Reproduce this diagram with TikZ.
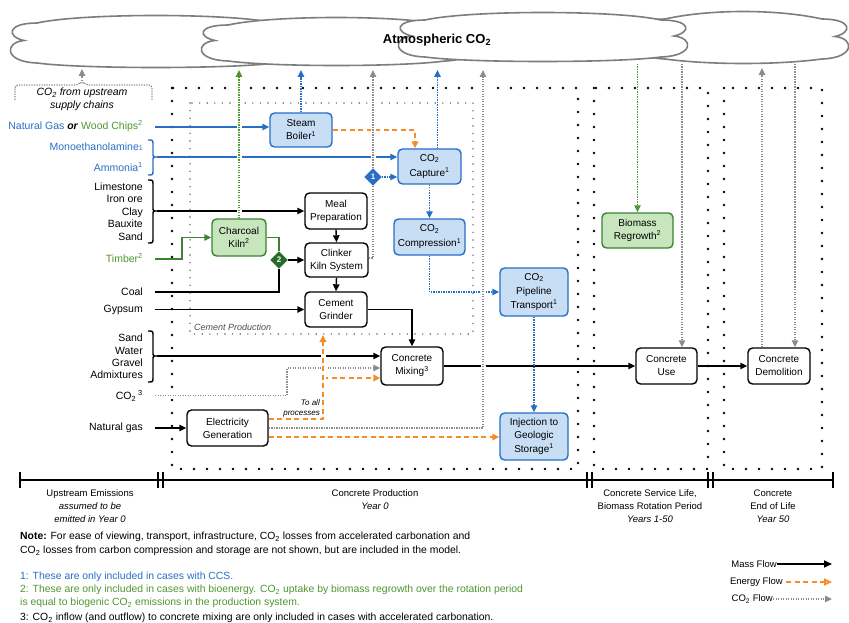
\documentclass[tikz,border=0pt]{standalone}
\usepackage{fontspec}
\setmainfont{Liberation Sans}
\usetikzlibrary{arrows.meta,shapes.geometric,calc}
\definecolor{cblue}{RGB}{40,110,195}
\definecolor{bborder}{RGB}{40,110,200}
\definecolor{bfill}{RGB}{200,222,245}
\definecolor{cgreen}{RGB}{78,150,50}
\definecolor{gborder}{RGB}{60,130,50}
\definecolor{gfill}{RGB}{200,230,190}
\definecolor{dgreen}{RGB}{40,105,40}
\definecolor{corange}{RGB}{245,140,40}
\definecolor{cgray}{RGB}{140,140,140}
\definecolor{cloudgray}{RGB}{125,125,125}
\newcommand{\myfs}[2]{\fontsize{#1}{#2}\selectfont}
\newcommand{\csub}[1]{\textsubscript{#1}}
\newcommand{\csup}[1]{\textsuperscript{#1}}
% cloud: left, right, top, bottom
\newcommand{\mycloud}[4]{%
 \draw[cloudline, fill=white] ({#1+25},{#3+8}) .. controls ({#1+70},{#3-2}) and ({#2-70},{#3-2}) .. ({#2-25},{#3+8})
 .. controls ({#2+5},{#3+8}) and ({#2+6},{(#3+#4)/2-4}) .. ({#2-12},{(#3+#4)/2})
 .. controls ({#2+8},{(#3+#4)/2+2}) and ({#2+8},{#4-4}) .. ({#2-25},{#4-3})
 .. controls ({#2-70},{#4+3}) and ({#1+70},{#4+3}) .. ({#1+25},{#4-3})
 .. controls ({#1-8},{#4-4}) and ({#1-8},{(#3+#4)/2+2}) .. ({#1+12},{(#3+#4)/2})
 .. controls ({#1-6},{(#3+#4)/2-4}) and ({#1-5},{#3+8}) .. ({#1+25},{#3+8}) -- cycle;}
\begin{document}
\begin{tikzpicture}[x=1pt,y=-1pt,
  box/.style={draw=black, line width=1.4pt, rounded corners=4.5pt, align=center, inner sep=0pt, fill=white, font=\myfs{10}{13}},
  bbox/.style={box, draw=bborder, fill=bfill},
  gbox/.style={box, draw=gborder, fill=gfill},
  arrtip/.style={-{Triangle[length=7pt,width=6.5pt]}},
  mass/.style={line width=1.4pt, arrtip},
  massl/.style={line width=1.4pt},
  bmass/.style={mass, cblue},
  gmass/.style={mass, gborder},
  gmassl/.style={massl, gborder},
  energy/.style={corange, line width=1.8pt, dash pattern=on 5pt off 3.5pt, arrtip},
  dotl/.style={line width=1.3pt, dash pattern=on 1.3pt off 1.2pt},
  co2g/.style={dotl, cgray, arrtip},
  co2gl/.style={dotl, cgray},
  co2b/.style={dotl, cblue, arrtip},
  co2gr/.style={dotl, cgreen, arrtip},
  gapline/.style={white, line width=5pt, shorten <=3pt, shorten >=3pt},
  bigdots/.style={line width=2.6pt, dash pattern=on 0pt off 13pt, line cap=round},
  smalldots/.style={line width=1.6pt, dash pattern=on 0pt off 7.6pt, line cap=round, black!60},
  lbl/.style={anchor=east, align=right, inner sep=0pt, font=\myfs{10.5}{12.4}},
  tl/.style={align=center, inner sep=0pt, font=\myfs{9.5}{13}},
  note/.style={anchor=west, inner sep=0pt, font=\myfs{10.4}{13}},
  leg/.style={anchor=east, inner sep=0pt, font=\myfs{9.5}{11}},
  cloudline/.style={cloudgray, line width=1.6pt}
]
\useasboundingbox (0,0) rectangle (849,623);

% ---------- dotted frames ----------
\draw[bigdots] (172,88) rectangle (578,469);
\draw[bigdots] (594,88) rectangle (708,469);
\draw[bigdots] (724,88) rectangle (822,469);
\draw[smalldots] (190,103) rectangle (473,334);
\node[anchor=west, inner sep=0pt, font=\itshape\myfs{9}{11}, text=black!70] (cplabel) at (194,327) {Cement Production};

% ---------- cloud ----------
\mycloud{12}{300}{15}{66}
\mycloud{640}{847}{11}{62}
\mycloud{203}{470}{17}{64}
\mycloud{400}{686}{12}{60}
\node[font=\bfseries\myfs{13}{15}, inner sep=0pt] (atm) at (437,40) {Atmospheric CO\csub{2}};

% ---------- process boxes ----------
\node[bbox, minimum width=62pt, minimum height=34pt] (boiler) at (301,130) {Steam\\Boiler\csup{1}};
\node[bbox, minimum width=63pt, minimum height=35pt] (capture) at (429.5,166.5) {CO\csub{2}\\[2pt]Capture\csup{1}};
\node[bbox, minimum width=71pt, minimum height=36pt] (compression) at (429.5,237) {CO\csub{2}\\[2pt]Compression\csup{1}};
\node[bbox, minimum width=68pt, minimum height=48pt] (pipeline) at (534,292) {CO\csub{2}\\[1pt]Pipeline\\[1pt]Transport\csup{1}};
\node[bbox, minimum width=68pt, minimum height=47pt] (injection) at (534,436.5) {Injection to\\Geologic\\[1pt]Storage\csup{1}};
\node[box, minimum width=62pt, minimum height=36pt] (meal) at (336,211) {Meal\\Preparation};
\node[box, minimum width=63pt, minimum height=34pt] (clinker) at (336.5,260) {Clinker\\Kiln System};
\node[box, minimum width=62pt, minimum height=35pt] (grinder) at (336,309.5) {Cement\\Grinder};
\node[gbox, minimum width=54pt, minimum height=37pt] (charcoal) at (239,237.5) {Charcoal\\Kiln\csup{2}};
\node[box, minimum width=62pt, minimum height=38pt] (mixing) at (412,366) {Concrete\\Mixing\csup{3}};
\node[box, minimum width=81pt, minimum height=36pt] (elec) at (227.5,428) {Electricity\\Generation};
\node[box, minimum width=61pt, minimum height=36pt] (use) at (666.5,366) {Concrete\\Use};
\node[box, minimum width=62pt, minimum height=36pt] (demolition) at (779,366) {Concrete\\Demolition};
\node[gbox, minimum width=71pt, minimum height=35pt] (regrowth) at (637.5,230.5) {Biomass\\Regrowth\csup{2}};
\node[diamond, fill=cblue, draw=cblue, text=white, font=\bfseries\myfs{8}{9}, inner sep=0.5pt, minimum size=17pt] (d1) at (373,177) {1};
\node[diamond, fill=dgreen, draw=dgreen, text=white, font=\bfseries\myfs{8}{9}, inner sep=0.5pt, minimum size=17pt] (d2) at (279,260) {2};

% ---------- input labels ----------
\node[align=center, inner sep=0pt, font=\itshape\myfs{10.5}{13}] (upstream) at (82,99.5) {CO\csub{2} from upstream\\supply chains};
\node[lbl] (ngwc) at (143,126) {{\color{cblue}Natural Gas} \textbf{\textit{or}} {\color{cgreen}Wood Chips\csup{2}}};
\node[lbl, text=cblue] (mea) at (143,147) {Monoethanolamine{\myfs{7}{8}1}};
\node[lbl, text=cblue] (ammonia) at (143,167) {Ammonia\csup{1}};
\node[lbl] (raw1) at (143,211.5) {Limestone\\Iron ore\\Clay\\Bauxite\\Sand};
\node[lbl, text=cgreen] (timber) at (143,258) {Timber\csup{2}};
\node[lbl] (coallbl) at (143,292) {Coal};
\node[lbl] (gyplbl) at (143,309.5) {Gypsum};
\node[lbl] (raw2) at (143,356.5) {Sand\\Water\\Gravel\\Admixtures};
\node[lbl] (co2lbl) at (143,396) {CO\csub{2}\csup{ 3}};
\node[lbl] (nglbl) at (143,428) {Natural gas};
\node[anchor=east, align=right, inner sep=0pt, font=\itshape\myfs{8}{10}] (toall) at (320,408) {To all\\processes};

% ---------- named coordinates ----------
\coordinate (cb) at (0,70);
\coordinate (ngs) at (155,127);
\coordinate (meatip) at (157,157);
\coordinate (limetip) at (157,211);
\coordinate (tim) at (155,259);
\coordinate (coal) at (155,292);
\coordinate (gyp) at (155,309.5);
\coordinate (sandtip) at (157,356);
\coordinate (co2in) at (155,395.5);
\coordinate (ng2) at (155,428);
\coordinate (cpbot) at (323,335);
\coordinate (br) at (323,378);
\coordinate (elec1) at ($(elec.east)+(0,-9)$);
\coordinate (elec3) at ($(elec.east)+(0,9)$);
\coordinate (up4) at (373,70);
\coordinate (up5) at (437.5,70);
\coordinate (up6) at (483,70);
\coordinate (dn1) at (637.5,64);
\coordinate (dn2) at (682,64);
\coordinate (up7) at (762,68);
\coordinate (dn3) at (795,64);
\coordinate (peak) at (82,81);
\coordinate (cbl) at (0,69);

% ---------- braces ----------
\draw[cblue, line width=1.4pt] (148,140) .. controls (153,140) .. (153,145) -- (153,153) .. controls (153,157) .. (meatip) .. controls (153,157) .. (153,161) -- (153,170) .. controls (153,175) .. (148,175);
\draw[line width=1.4pt] (148,180) .. controls (153,180) .. (153,185) -- (153,207) .. controls (153,211) .. (limetip) .. controls (153,211) .. (153,215) -- (153,238) .. controls (153,243) .. (148,243);
\draw[line width=1.4pt] (148,331) .. controls (153,331) .. (153,336) -- (153,352) .. controls (153,356) .. (sandtip) .. controls (153,356) .. (153,360) -- (153,377) .. controls (153,382) .. (148,382);
\draw[cgray, line width=1.3pt, dash pattern=on 1.3pt off 1.2pt, rounded corners=3pt] (15,100) -- (15,85) -- (78,85) -- (peak) -- (86,85) -- (152,85) -- (152,100);

% ---------- horizontal / main connectors ----------
\draw[bmass] (ngs) -- (ngs -| boiler.west);
\draw[bmass] (meatip) -- (meatip -| capture.west);
\draw[mass] (limetip) -- (limetip -| meal.west);
\draw[gmass] (tim) -- ++(27,0) |- (charcoal.west);
\draw[gmassl] (charcoal.east) -| (d2.north);
\draw[mass] (d2.east) -- (clinker.west);
\draw[massl] (coal) -| (d2.south);
\draw[mass] (gyp) -- (grinder.west);
\draw[mass] (meal.south) -- (clinker.north);
\draw[mass] (clinker.south) -- (grinder.north);
\draw[mass] (grinder.east) -| (mixing.north);
\draw[mass] (sandtip) -- (sandtip -| mixing.west);
\draw[co2g] (co2in) -- ++(132,0) |- ($(mixing.west)+(0,2)$);
\draw[mass] (ng2) -- (elec.west);
\draw[mass] (mixing.east) -- (use.west);
\draw[mass] (use.east) -- (demolition.west);
\draw[energy] (boiler.east) -| ($(capture.north)+(-14.5,0)$);
\draw[energy] (br) -- (br -| mixing.west);
\draw[energy] (elec3) -- (elec3 -| injection.west);
\draw[co2b] (d1.east) -- (d1.east -| capture.west);
\draw[co2b] (capture.south) -- (compression.north);
\draw[co2b] (compression.south) |- (pipeline.west);
\draw[co2b] (pipeline.south) -- (injection.north);

% ---------- line hops ----------
\draw[gapline] (charcoal.north) -- (charcoal.north |- cb);
\draw[gapline] (d1.north) -- (up4);
\draw[gapline] (elec1 -| cpbot) -- (cpbot);
\draw[gapline] (up6 |- elec.east) -- (up6);

% ---------- vertical connectors ----------
\draw[co2gr] (charcoal.north) -- (charcoal.north |- cb);
\draw[co2b] (boiler.north) -- (boiler.north |- cb);
\draw[co2gl] ($(clinker.east)+(0,-2)$) -| (d1.south);
\draw[co2g] (d1.north) -- (up4);
\draw[co2b] ($(capture.north)+(8,0)$) -- (up5);
\draw[energy] (elec1) -| (cpbot);
\draw[co2g] (elec.east) -| (up6);
\draw[co2g] (peak) -- (peak |- cbl);
\draw[co2gr] (dn1) -- (regrowth.north);
\draw[co2g] (dn2) -- (dn2 |- use.north);
\draw[co2g] ($(demolition.north)+(-17,0)$) -- (up7);
\draw[co2g] (dn3) -- (dn3 |- demolition.north);

% ---------- timeline ----------
\draw[line width=1.2pt] (20,480) -- (833,480);
\foreach \tx in {20,158,163,587,592,708,713,833}
  \draw[line width=1.2pt] (\tx,472) -- (\tx,488);
\node[tl] (t1) at (90,506) {Upstream Emissions\\\textit{assumed to be}\\\textit{emitted in Year 0}};
\node[tl] (t2) at (375,499.5) {Concrete Production\\\textit{Year 0}};
\node[tl] (t3) at (650,506) {Concrete Service Life,\\Biomass Rotation Period\\\textit{Years 1-50}};
\node[tl] (t4) at (773,506) {Concrete\\End of Life\\\textit{Year 50}};

% ---------- notes ----------
\node[note] (n1) at (20,537) {\textbf{Note:} For ease of viewing, transport, infrastructure, CO\csub{2} losses from accelerated carbonation and};
\node[note] (n2) at (20,551) {CO\csub{2} losses from carbon compression and storage are not shown, but are included in the model.};
\node[note, text=cblue] (n3) at (20,577) {1: These are only included in cases with CCS.};
\node[note, text=cgreen] (n4) at (20,590) {2: These are only included in cases with bioenergy. CO\csub{2} uptake by biomass regrowth over the rotation period};
\node[note, text=cgreen] (n5) at (20,603) {is equal to biogenic CO\csub{2} emissions in the production system.};
\node[note] (n6) at (20,618) {3: CO\csub{2} inflow (and outflow) to concrete mixing are only included in cases with accelerated carbonation.};

% ---------- legend ----------
\coordinate (lend) at (832,0);
\node[leg] (lm) at (777,564) {Mass Flow};
\node[leg] (le) at (783,582) {Energy Flow};
\node[leg] (lc) at (773,599) {CO\csub{2} Flow};
\draw[line width=1.6pt, -{Triangle[length=8pt,width=7pt]}] (lm.east) -- (lm.east -| lend);
\draw[corange, line width=1.8pt, dash pattern=on 5pt off 3.5pt, -{Triangle[open,length=8pt,width=7pt]}] ($(le.east)+(3,0)$) -- (le.east -| lend);
\draw[co2g] (lc.east) -- (lc.east -| lend);
\end{tikzpicture}
\end{document}
